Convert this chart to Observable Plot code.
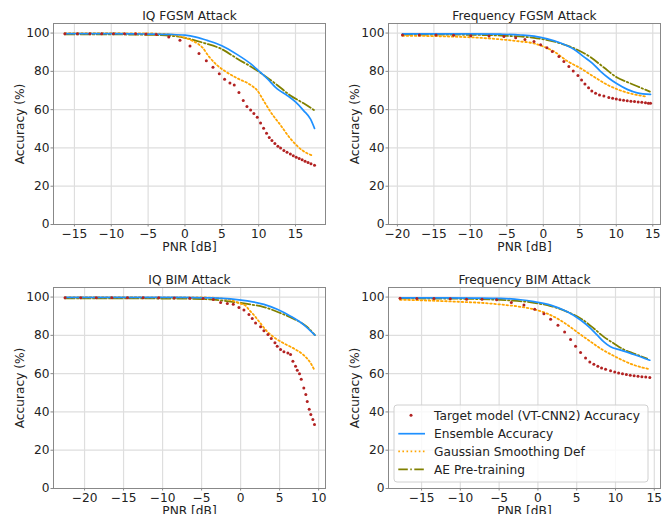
<!DOCTYPE html>
<html><head><meta charset="utf-8">
<script src="https://cdn.jsdelivr.net/npm/d3@7"></script>
<script src="https://cdn.jsdelivr.net/npm/@observablehq/plot@0.6"></script>
<style>
html,body{margin:0;padding:0;background:#fff;overflow:hidden}
#wrap{position:relative;width:671px;height:514px;font-family:"DejaVu Sans",sans-serif}
.panel{position:absolute}
</style>
</head><body><div id="wrap"></div>
<script>
// ---------- data ----------
const seriesNames = ["Target model (VT-CNN2) Accuracy", "Ensemble Accuracy", "Gaussian Smoothing Def", "AE Pre-training"];
const panelTitles = ["IQ FGSM Attack", "Frequency FGSM Attack", "IQ BIM Attack", "Frequency BIM Attack"];
const yTicks = [0, 20, 40, 60, 80, 100];

// IQ FGSM
const iqFgsmTargetX = [-16.3,-14.6,-12.9,-11.3,-9.7,-8.2,-6.7,-5.3,-3.9,-2.2,-0.68,0.68,1.9,2.9,3.8,4.66,5.38,6.1,6.69,7.32,7.91,8.41,8.91,9.35,9.81,10.26,10.67,11.07,11.44,11.8,12.2,12.61,12.97,13.42,13.85,14.3,14.7,15.1,15.5,15.9,16.3,16.7,17.1,17.58];
const iqFgsmTargetY = [99.7,99.7,99.7,99.7,99.7,99.6,99.6,99.5,99.3,97.9,96.3,93.3,89.3,85.5,82.2,78.8,75.9,73.9,72.9,68.9,64.8,61.7,59.8,58.0,56.0,53.0,50.3,47.7,45.5,43.9,42.3,40.9,39.9,38.6,37.7,36.8,35.9,35.1,34.5,33.8,33.1,32.4,31.7,30.9];
const iqFgsmEnsX = [-16.3,-10,-5,-2,0,1.5,3.0,5.0,7.0,8.9,10.0,11.17,12.52,13.88,15.0,16.1,17.04,17.58];
const iqFgsmEnsY = [99.7,99.7,99.5,99.3,98.9,97.9,96.2,93.4,89.0,84.0,80.3,76.2,70.8,67.4,64.0,59.5,55.0,50.2];
const iqFgsmGauX = [-16.3,-10,-5,-2,-0.13,1.0,1.9,2.36,3.26,4.3,5.52,7.1,8.9,9.81,10.7,11.6,12.97,14.3,15.9,17.3];
const iqFgsmGauY = [99.9,99.9,99.8,99.3,97.7,96.0,94.0,92.5,87.7,83.4,79.9,76.4,72.9,70.0,64.5,58.9,51.9,44.9,38.8,36.0];
const iqFgsmAeX = [-16.3,-10,-5,-2,0,2.6,4.9,7.1,9.4,10.7,12.5,14.3,16.1,17.5];
const iqFgsmAeY = [99.3,99.3,99.1,98.6,97.5,94.8,91.8,86.6,81.4,78.0,72.9,67.4,63.3,59.8];

// Frequency FGSM
const frFgsmTargetX = [-19.3,-17.0,-14.7,-12.3,-9.95,-7.44,-5.4,-3.79,-2.52,-1.28,-0.37,0.5,1.23,2.14,2.82,3.5,4.1,4.74,5.24,5.7,6.2,6.65,7.16,7.7,8.3,8.98,9.5,10.0,10.5,11.0,11.5,12.0,12.5,13.0,13.5,14.0,14.4,14.69];
const frFgsmTargetY = [99.0,99.0,99.0,98.8,98.6,98.5,98.2,97.6,96.7,95.6,93.9,92.3,90.4,87.7,85.1,82.5,80.2,77.8,75.5,73.4,71.5,69.7,68.5,67.6,67.1,66.4,66.0,65.6,65.2,64.9,64.6,64.4,64.2,64.0,63.8,63.6,63.4,63.3];
const frFgsmEnsX = [-19.3,-15,-10,-5.85,-3.1,-1.28,0.55,2.37,4.19,5.56,6.7,7.84,8.98,10.1,11.5,12.87,14.69];
const frFgsmEnsY = [99.6,99.6,99.6,99.4,99.0,98.4,97.0,94.8,91.5,87.6,84.3,80.0,76.4,73.5,70.6,68.8,68.0];
const frFgsmGauX = [-19.3,-15,-10,-5.85,-3.1,-1.28,0.55,1.46,3.28,5.1,6.93,8.76,10.58,12.4,14.2];
const frFgsmGauY = [98.6,98.4,97.8,96.7,95.6,94.6,92.1,90.4,85.4,81.6,77.2,73.0,70.0,68.0,66.8];
const frFgsmAeX = [-19.3,-15,-10,-5.85,-1.28,2.37,4.65,6.47,8.3,10.1,11.5,12.87,14.6];
const frFgsmAeY = [99.2,99.2,99.1,98.7,97.5,94.6,91.3,87.4,82.0,76.8,74.4,72.2,69.4];

// IQ BIM
const iqBimTargetX = [-22.5,-20.5,-18.5,-16.5,-14.5,-12.5,-10.5,-8.5,-6.5,-4.8,-3.5,-2.56,-1.7,-0.94,-0.21,0.43,1.07,1.49,1.92,2.56,2.99,3.5,3.93,4.4,4.69,5.12,5.55,6.06,6.4,6.7,7.04,7.26,7.55,7.77,8.1,8.36,8.54,8.79,9.0,9.26,9.47];
const iqBimTargetY = [99.6,99.6,99.6,99.6,99.6,99.6,99.6,99.5,99.4,99.2,98.7,97.2,96.7,96.3,94.6,93.2,90.9,88.8,86.5,84.5,82.4,80.5,78.4,76.1,74.3,72.6,71.4,70.8,70.0,66.5,63.9,61.8,60.0,57.1,52.5,49.1,45.5,41.4,38.6,36.0,33.4];
const iqBimEnsX = [-22.5,-15,-7.68,-4,-1.28,0.85,2.99,4.69,6.4,8.1,9.52];
const iqBimEnsY = [99.8,99.8,99.8,99.6,99.1,98.0,96.2,93.6,90.0,85.5,80.1];
const iqBimGauX = [-22.5,-15,-5,-2.5,-1.2,-0.21,0.64,1.07,1.71,2.35,3.41,4.48,5.55,6.83,8.1,8.96,9.52];
const iqBimGauY = [99.9,99.9,99.8,99.3,98.4,96.8,95.5,93.4,90.6,87.3,82.0,78.4,75.8,73.1,69.6,65.6,61.4];
const iqBimAeX = [-22.5,-15,-7.68,-4,-1.28,0.85,2.99,5.12,6.83,8.53,9.52];
const iqBimAeY = [99.3,99.3,99.2,98.8,97.6,96.4,94.8,91.6,88.6,84.4,80.1];

// Frequency BIM
const frBimTargetX = [-17.77,-15.6,-13.4,-11.3,-9.2,-7.2,-5.32,-3.43,-1.8,-0.42,0.77,1.64,2.58,3.44,4.21,4.85,5.5,6.14,6.69,7.21,7.72,8.2,8.72,9.36,9.9,10.4,10.9,11.4,11.9,12.4,12.9,13.4,13.9,14.42];
const frBimTargetY = [99.4,99.3,99.2,99.1,98.9,98.8,98.6,97.1,95.9,93.6,91.3,88.4,85.3,81.8,77.9,74.3,71.0,68.2,66.1,64.9,63.9,63.0,62.3,61.5,60.8,60.3,59.9,59.5,59.2,58.9,58.6,58.4,58.2,58.0];
const frBimEnsX = [-17.77,-12,-8,-4.8,-2.23,-0.51,1.64,3.79,5.5,6.79,7.65,8.5,9.36,10.65,12.36,14.42];
const frBimEnsY = [99.6,99.6,99.5,99.3,98.6,97.6,95.8,92.3,88.0,83.6,80.1,76.6,74.0,72.3,70.0,67.0];
const frBimGauX = [-17.77,-15,-10,-7,-4.8,-2.23,-0.51,1.12,2.84,4.13,5.43,6.72,8.0,9.3,10.6,12.3,14.42];
const frBimGauY = [98.6,98.3,97.5,96.9,96.1,94.9,93.6,91.5,88.0,84.5,80.6,76.9,73.3,70.3,67.6,64.6,62.3];
const frBimAeX = [-17.77,-12,-8,-4.8,-0.51,1.64,3.79,5.72,7.21,8.5,9.79,11.07,12.36,14.08];
const frBimAeY = [99.3,99.2,99.0,98.5,97.0,95.3,92.3,88.3,83.6,79.2,75.8,72.6,70.5,67.9];

// ---------- styles ----------
const C = {tgt: "#b22222", ens: "#1e90ff", gau: "#ffa500", ae: "#808000"};
const GAU_DASH = "1.6,2.5";
const AE_DASH = "9.5,2.5,1.5,2.5";
const fmt = d => d < 0 ? "\u2212" + Math.abs(d) : String(d);
const zip = (xs, ys) => xs.map((x, i) => ({x, y: ys[i]}));

const panels = [
  {left: 0, top: 0, mt: 23, mb: 33, xDomain: [-17.84, 19.07], xTicks: [-15,-10,-5,0,5,10,15], title: panelTitles[0],
   tgt: zip(iqFgsmTargetX, iqFgsmTargetY), ens: zip(iqFgsmEnsX, iqFgsmEnsY), gau: zip(iqFgsmGauX, iqFgsmGauY), ae: zip(iqFgsmAeX, iqFgsmAeY)},
  {left: 335, top: 0, mt: 23, mb: 33, xDomain: [-21.22, 16.06], xTicks: [-20,-15,-10,-5,0,5,10,15], title: panelTitles[1],
   tgt: zip(frFgsmTargetX, frFgsmTargetY), ens: zip(frFgsmEnsX, frFgsmEnsY), gau: zip(frFgsmGauX, frFgsmGauY), ae: zip(frFgsmAeX, frFgsmAeY)},
  {left: 0, top: 257, mt: 30, mb: 26, xDomain: [-23.98, 10.88], xTicks: [-20,-15,-10,-5,0,5,10], title: panelTitles[2],
   tgt: zip(iqBimTargetX, iqBimTargetY), ens: zip(iqBimEnsX, iqBimEnsY), gau: zip(iqBimGauX, iqBimGauY), ae: zip(iqBimAeX, iqBimAeY)},
  {left: 335, top: 257, mt: 30, mb: 26, xDomain: [-19.26, 15.8], xTicks: [-15,-10,-5,0,5,10,15], title: panelTitles[3],
   tgt: zip(frBimTargetX, frBimTargetY), ens: zip(frBimEnsX, frBimEnsY), gau: zip(frBimGauX, frBimGauY), ae: zip(frBimAeX, frBimAeY)}
];

const wrap = document.getElementById("wrap");
for (const p of panels) {
  const svg = Plot.plot({
    width: 335, height: 257,
    marginTop: p.mt, marginBottom: p.mb, marginLeft: 53, marginRight: 10,
    style: {fontFamily: "'DejaVu Sans', sans-serif", fontSize: "12.2px", color: "#222", background: "none", overflow: "visible"},
    x: {domain: p.xDomain},
    y: {domain: [0, 105]},
    marks: [
      Plot.gridX(p.xTicks, {stroke: "#dedede", strokeOpacity: 1, strokeWidth: 1.2}),
      Plot.gridY(yTicks, {stroke: "#dedede", strokeOpacity: 1, strokeWidth: 1.2}),
      Plot.axisX(p.xTicks, {tickFormat: fmt, tickSize: 2.5, tickPadding: 2.5, label: null, stroke: "#888", fill: "#222"}),
      Plot.axisY(yTicks, {tickSize: 2.5, tickPadding: 1.5, label: null, stroke: "#888", fill: "#222"}),
      Plot.line(p.ae, {x: "x", y: "y", stroke: C.ae, strokeWidth: 1.8, strokeDasharray: AE_DASH, curve: "monotone-x"}),
      Plot.line(p.gau, {x: "x", y: "y", stroke: C.gau, strokeWidth: 1.8, strokeDasharray: GAU_DASH, curve: "monotone-x"}),
      Plot.line(p.ens, {x: "x", y: "y", stroke: C.ens, strokeWidth: 1.7, curve: "monotone-x"}),
      Plot.dot(p.tgt, {x: "x", y: "y", r: 1.5, fill: C.tgt, stroke: "none"}),
      Plot.frame({stroke: "#888"}),
      Plot.text([p.title], {frameAnchor: "top", lineAnchor: "middle", dy: -7.6, fill: "#222"}),
      Plot.text(["PNR [dB]"], {frameAnchor: "bottom", lineAnchor: "middle", dy: 22.5, fill: "#222"}),
      Plot.text(["Accuracy (%)"], {frameAnchor: "left", textAnchor: "middle", lineAnchor: "middle", dx: -33.5, rotate: -90, fill: "#222"})
    ]
  });
  svg.classList.add("panel");
  svg.style.left = p.left + "px";
  svg.style.top = p.top + "px";
  wrap.appendChild(svg);
}

// ---------- legend (inside Frequency BIM panel) ----------
const lg = d3.select(wrap).append("svg")
  .attr("width", 256).attr("height", 79)
  .style("position", "absolute").style("left", "393px").style("top", "404px")
  .style("font-family", "'DejaVu Sans', sans-serif").style("font-size", "12.2px");
lg.append("rect").attr("x", 1).attr("y", 1).attr("width", 254).attr("height", 77).attr("rx", 3)
  .attr("fill", "#fff").attr("fill-opacity", 0.8).attr("stroke", "#d0d0d0");
const rowsY = [11.3, 29.7, 47.3, 65.3];
const keys = ["tgt", "ens", "gau", "ae"];
keys.forEach((k, i) => {
  const g = lg.append("g").attr("transform", `translate(0,${rowsY[i]})`);
  if (k === "tgt") g.append("circle").attr("cx", 18).attr("cy", 0).attr("r", 1.5).attr("fill", C.tgt);
  else g.append("line").attr("x1", 5.3).attr("x2", 32).attr("y1", 0).attr("y2", 0)
    .attr("stroke", C[k]).attr("stroke-width", k === "ens" ? 1.7 : 1.8)
    .attr("stroke-dasharray", k === "gau" ? GAU_DASH : k === "ae" ? AE_DASH : null);
  g.append("text").attr("x", 41).attr("y", 0).attr("dy", "0.35em").attr("fill", "#222").text(seriesNames[i]);
});
</script></body></html>
